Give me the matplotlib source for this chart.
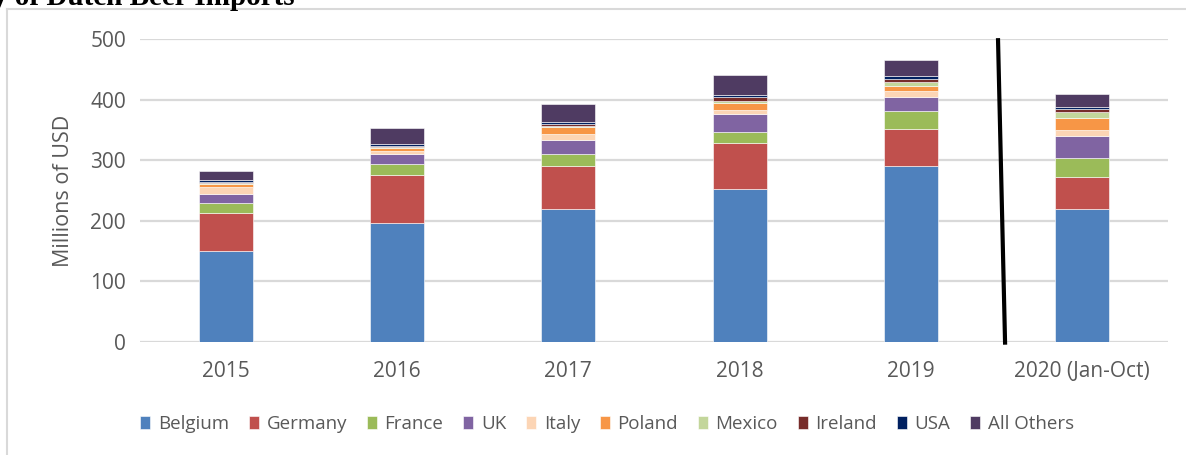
import matplotlib
matplotlib.use("Agg")
import matplotlib.pyplot as plt
from matplotlib.lines import Line2D
import numpy as np

plt.rcParams['font.family'] = ['Open Sans', 'DejaVu Sans']

years = ["2015", "2016", "2017", "2018", "2019", "2020 (Jan-Oct)"]
countries = ["Belgium", "Germany", "France", "UK", "Italy", "Poland",
             "Mexico", "Ireland", "USA", "All Others"]

belgium = [150, 196, 219, 252, 291, 220]
germany = [63, 80, 72, 76, 61, 53]
france = [17, 18, 19, 18, 29, 31]
uk = [14, 17, 24, 31, 24, 36]
italy = [12, 4, 10, 6, 10, 10]
poland = [4, 5, 10, 11, 8, 20]
mexico = [2, 2, 2, 3, 6, 10]
ireland = [2, 2, 3, 7, 5, 4]
usa = [3, 3, 4, 4, 5, 4]
others = [15, 26, 29, 32, 27, 21]

series = [belgium, germany, france, uk, italy, poland, mexico, ireland, usa, others]
colors = ["#4F81BD", "#C0504D", "#9BBB59", "#8064A2", "#FCD5B5", "#F79646",
          "#C3D69B", "#772C2A", "#002060", "#4F3B62"]

fig = plt.figure(figsize=(11.86, 4.55), dpi=100)
ax = fig.add_axes([140 / 1186, 1 - 342 / 455, 1028 / 1186, 303 / 455])

x = np.arange(len(years))
bottom = np.zeros(len(years))
for name, vals, col in zip(countries, series, colors):
    ax.bar(x, vals, width=0.315, bottom=bottom, color=col, label=name,
           edgecolor="white", linewidth=0.4, zorder=3)
    bottom += np.array(vals)

ax.set_xlim(-0.5, len(years) - 0.5)
ax.set_ylim(0, 500)
ax.set_yticks(range(0, 501, 100))
ax.set_xticks(x)
ax.set_xticklabels(years)
ax.grid(axis="y", color="#D9D9D9", linewidth=1.6, zorder=0)
ax.set_axisbelow(True)
for s in ax.spines.values():
    s.set_visible(False)
ax.tick_params(length=0, labelsize=15, labelcolor="#595959", pad=10)
ax.tick_params(axis="x", pad=14)
ax.set_ylabel("Millions of USD", fontsize=15.5, color="#595959", labelpad=12)

# black separator line before 2020
ax.plot([4.508, 4.549], [498, -1], color="black", linewidth=3, clip_on=False, zorder=5)

handles, labels = ax.get_legend_handles_labels()
fig.legend(handles, labels, loc="center", bbox_to_anchor=(607 / 1186, 1 - 424 / 455),
           ncol=10, frameon=False, fontsize=13.5, handlelength=0.55, handleheight=0.75,
           handletextpad=0.4, columnspacing=1.05, labelcolor="#595959")

# chart frame
fig.add_artist(Line2D([7 / 1186, 7 / 1186], [0, 1 - 9 / 455], color="#D9D9D9", linewidth=1.5))
fig.add_artist(Line2D([7 / 1186, 1], [1 - 9 / 455, 1 - 9 / 455], color="#D9D9D9", linewidth=1.5))

fig.text(295 / 1186, 1 - 5 / 455, "y of Dutch Beer Imports", ha="right", va="baseline",
         fontsize=21, fontweight="bold", family=["Liberation Serif", "DejaVu Serif"])

fig.savefig("out.png", dpi=100)
